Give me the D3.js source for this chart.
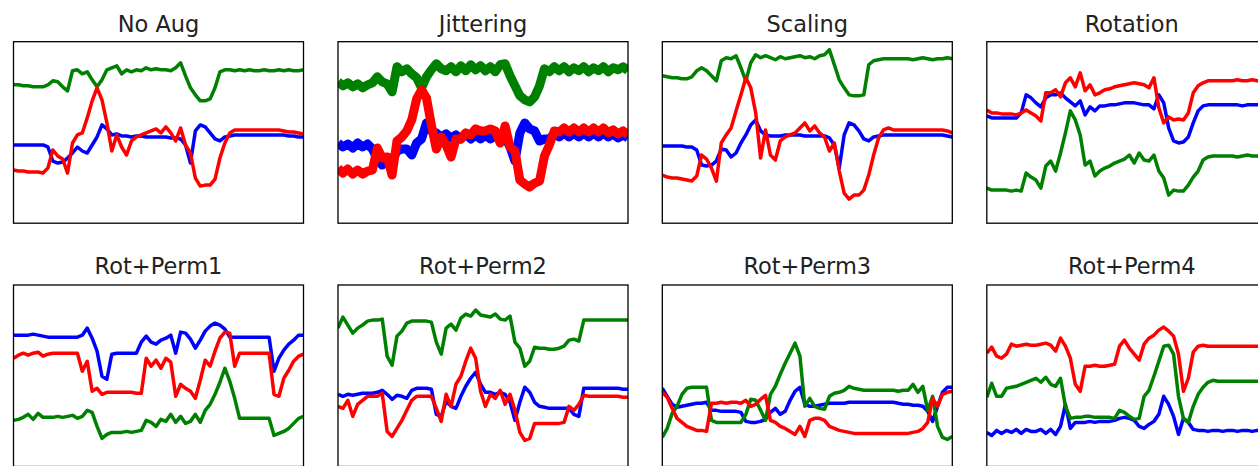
<!DOCTYPE html>
<html><head><meta charset="utf-8">
<script src="https://cdn.jsdelivr.net/npm/d3@7"></script>
<style>html,body{margin:0;padding:0;background:#fff;overflow:hidden}</style>
</head><body>
<script>
const titles = ["No Aug","Jittering","Scaling","Rotation","Rot+Perm1","Rot+Perm2","Rot+Perm3","Rot+Perm4"];
const seriesNames = ["blue","green","red"];
const seriesColors = ["#0000ff","#008000","#ff0000"];

const noAugBlue  = [78,78,78,78,78,78,78,76,62,60, 61,65,70,76,72,70,78,86,98,94, 88,89,87,87,86,87,87,86,86,86, 86,86,85,85,84,78,60,92,98,96, 90,84,82,86,87,88,88,88,88,88, 88,88,88,88,88,88,87,87,86,86];
const noAugGreen = [138,138,137,137,136,136,136,138,142,141, 136,132,152,153,149,151,143,136,143,153, 155,157,149,153,151,153,152,155,153,154, 153,153,152,155,160,147,135,128,122,122, 124,135,151,153,153,152,153,152,153,152, 152,153,152,152,153,152,153,152,152,153];
const noAugRed   = [53,52,52,51,51,51,50,55,73,67, 64,50,80,88,90,105,122,135,123,100, 72,88,76,68,82,86,88,90,92,94, 90,96,90,82,95,78,70,45,37,38, 38,44,65,80,90,93,93,93,93,93, 93,93,93,93,93,92,91,91,90,89];

const jitterBlue  = [80,76,79,75,80,76,79,74,64,58, 63,62,72,74,74,68,80,84,100,92, 90,86,89,85,88,84,89,84,88,84, 88,84,87,83,86,76,62,90,100,94, 92,82,84,84,89,86,90,86,90,86, 90,86,90,86,90,86,89,85,88,85];
const jitterGreen = [141,137,140,136,139,135,138,140,146,141, 139,131,156,151,154,149,145,135,146,153, 159,154,152,156,151,157,152,158,153,157, 152,156,151,158,159,147,137,127,123,121, 126,137,154,151,156,152,156,151,155,152, 156,151,155,152,156,151,155,153,156,152];
const jitterRed   = [55,50,54,49,53,49,52,53,75,65, 66,48,82,86,92,103,124,133,125,98, 74,86,78,66,84,84,90,88,94,92, 92,94,92,80,97,76,72,43,39,36, 40,42,67,78,92,91,95,91,95,91, 95,91,95,91,95,90,93,89,92,88];

const scaleBlue  = [77,77,77,77,77,76,76,73,58,57, 58,62,74,73,66,70,80,88,98,103, 92,88,87,87,87,88,88,88,88,87, 87,87,87,87,85,78,55,88,100,98, 92,84,82,86,87,88,88,88,88,88, 88,88,88,88,88,88,88,88,87,86];
const scaleGreen = [147,146,145,145,144,144,146,152,155,152, 147,142,162,165,164,167,155,142,160,168, 165,167,165,163,166,164,165,166,167,165, 166,164,167,168,173,158,143,135,128,127, 127,128,158,162,163,164,164,164,164,164, 164,163,164,165,164,163,164,164,165,164];
const scaleRed   = [48,46,45,45,44,43,42,47,68,64, 55,42,80,88,95,112,128,145,135,110, 65,93,68,63,82,86,88,90,95,100, 92,97,90,86,72,80,52,30,24,28, 28,33,48,68,85,93,95,93,93,93, 93,93,93,93,93,93,93,93,92,90];

const rotBlue  = [107,105,105,105,105,105,105,110,128,125, 120,116,125,128,128,130,125,121,117,122, 108,116,112,117,117,118,118,119,120,120, 120,119,118,118,114,128,120,95,82,80, 81,86,100,112,117,118,118,118,118,118, 118,118,117,118,118,118,118,118,118,118];
const rotGreen = [35,33,33,33,33,32,33,32,50,46, 43,35,57,62,52,70,90,112,103,88, 58,62,47,52,55,57,60,62,64,68, 60,70,63,62,68,52,45,28,33,32, 32,38,46,52,63,66,67,67,67,67, 67,66,67,68,67,67,66,67,68,67];
const rotRed   = [113,110,110,109,109,109,108,110,113,110, 107,102,130,130,133,126,140,145,136,150, 132,138,128,130,133,134,136,137,138,139, 140,139,138,135,145,115,100,106,103,104, 103,110,130,137,140,142,142,142,142,142, 142,143,142,142,143,142,142,143,142,142];

const perm1Blue  = [131,131,131,131,132,131,130,129,129,129, 129,129,129,129,131,138,128,115,90,87, 112,113,113,113,113,113,124,130,124,122, 126,128,131,113,134,133,127,118,126,135, 140,143,141,137,129,129,129,129,129,129, 129,129,129,95,108,116,122,126,131,131];
const perm1Green = [46,47,49,52,47,53,49,49,49,50, 49,50,51,48,50,56,54,40,28,32, 34,34,34,35,34,35,36,46,44,40, 47,45,52,44,50,43,45,52,44,56, 62,72,84,98,85,68,48,48,48,48, 48,48,48,31,33,35,38,43,48,50];
const perm1Red   = [108,111,113,111,113,114,110,112,113,113, 113,113,113,113,95,105,75,78,72,74, 74,74,74,74,74,73,73,108,100,106, 98,108,104,70,82,78,75,68,86,106, 100,115,128,134,133,100,113,113,113,113, 113,113,113,72,70,88,96,105,110,112];

const perm2Blue  = [72,70,72,71,72,73,73,73,74,76, 72,67,71,70,68,76,78,78,78,77, 52,50,65,60,58,70,80,88,94,82, 74,74,72,74,72,64,46,64,79,74, 64,60,59,58,58,58,58,58,52,50, 78,78,78,78,78,78,78,78,77,77];
const perm2Green = [138,149,141,133,138,141,145,146,146,147, 110,101,130,135,143,145,145,145,145,144, 124,112,138,142,136,148,152,150,156,151, 150,149,152,147,146,150,124,118,100,105, 119,118,118,117,117,118,120,126,127,125, 146,146,146,146,146,146,146,146,146,146];
const perm2Red   = [60,58,66,50,62,66,70,70,70,73, 35,30,38,46,56,66,70,70,70,70, 58,45,72,60,82,90,105,118,108,75, 60,72,68,76,62,72,56,34,26,28, 43,43,43,43,43,43,44,60,56,62, 71,70,70,70,70,70,70,70,69,69];

const perm3Blue  = [78,70,62,59,60,61,62,63,63,64, 56,56,55,55,55,55,54,45,44,44, 45,47,54,58,52,55,66,75,79,62, 60,60,61,62,63,63,63,63,64,64, 64,64,64,64,64,64,64,64,63,62, 62,61,61,60,55,45,60,74,79,79];
const perm3Green = [29,38,53,60,72,78,79,79,79,79, 46,44,44,44,44,44,44,52,67,66, 56,46,72,80,92,103,113,123,110,60, 68,60,58,57,70,73,74,76,80,78, 77,76,76,76,76,76,76,76,75,76, 76,82,74,80,56,70,40,29,27,30];
const perm3Red   = [74,69,58,48,44,40,38,36,36,35, 63,63,64,63,64,64,63,66,60,62, 67,71,46,44,40,38,35,32,40,30, 46,48,48,46,40,38,36,35,34,33, 33,33,33,33,33,33,33,33,33,33, 33,34,35,38,44,68,60,72,74,75];

const perm4Blue  = [34,31,36,33,36,34,37,33,37,35, 35,37,33,37,32,40,62,38,44,44, 44,45,44,45,45,45,46,48,49,48, 46,40,38,42,45,52,70,62,50,32, 48,44,37,36,36,35,36,36,35,36, 36,35,36,36,35,36,36,36,36,36];
const perm4Green = [69,83,70,70,78,79,80,82,84,86, 88,84,89,82,80,88,60,48,49,49, 50,50,49,49,49,49,48,56,54,50, 47,48,70,76,90,105,120,121,112,70, 48,44,60,72,79,84,86,85,85,85, 85,85,85,85,85,85,85,85,85,85];
const perm4Red   = [113,119,110,108,112,122,120,121,122,121, 121,122,123,121,115,128,120,108,82,75, 100,100,101,100,100,101,102,120,126,118, 112,106,122,128,131,136,139,135,130,112, 75,88,114,120,121,120,120,120,120,120, 120,120,120,120,120,120,120,120,120,120];

const panelSeries = [
  [noAugBlue, noAugGreen, noAugRed],
  [jitterBlue, jitterGreen, jitterRed],
  [scaleBlue, scaleGreen, scaleRed],
  [rotBlue, rotGreen, rotRed],
  [perm1Blue, perm1Green, perm1Red],
  [perm2Blue, perm2Green, perm2Red],
  [perm3Blue, perm3Green, perm3Red],
  [perm4Blue, perm4Green, perm4Red]
];

const W = 1258, H = 466;
const pw = 290, ph = 181.5;
const lefts = [13.5, 338, 662.3, 986.8];
const tops = [41.7, 285];

const svg = d3.select("body").append("svg").attr("width", W).attr("height", H)
  .style("display","block");

const x = d3.scaleLinear().domain([0, 59]).range([0, pw]);
const y = d3.scaleLinear().domain([0, 181]).range([ph, 0]);

panelSeries.forEach((series, p) => {
  const r = Math.floor(p / 4), c = p % 4;
  const g = svg.append("g").attr("transform", `translate(${lefts[c]},${tops[r]})`);
  const clipId = "clip" + p;
  g.append("clipPath").attr("id", clipId).append("rect")
    .attr("width", pw).attr("height", ph);
  const lg = g.append("g").attr("clip-path", `url(#${clipId})`);
  const line = d3.line().x((d, i) => x(i)).y(d => y(d));
  const sw = p === 1 ? 9 : 3.5;
  series.forEach((vals, s) => {
    lg.append("path").datum(vals)
      .attr("d", line)
      .attr("fill", "none")
      .attr("stroke", seriesColors[s])
      .attr("stroke-width", sw)
      .attr("stroke-linejoin", "round")
      .attr("stroke-linecap", "butt");
  });
  g.append("rect").attr("width", pw).attr("height", ph)
    .attr("fill", "none").attr("stroke", "#000").attr("stroke-width", 1.3);
  svg.append("text")
    .attr("x", lefts[c] + pw / 2)
    .attr("y", r === 0 ? 31.5 : 273.5)
    .attr("text-anchor", "middle")
    .attr("font-family", "DejaVu Sans, sans-serif")
    .attr("font-size", 22.5)
    .attr("fill", "#222")
    .text(titles[p]);
});
</script>
</body></html>
